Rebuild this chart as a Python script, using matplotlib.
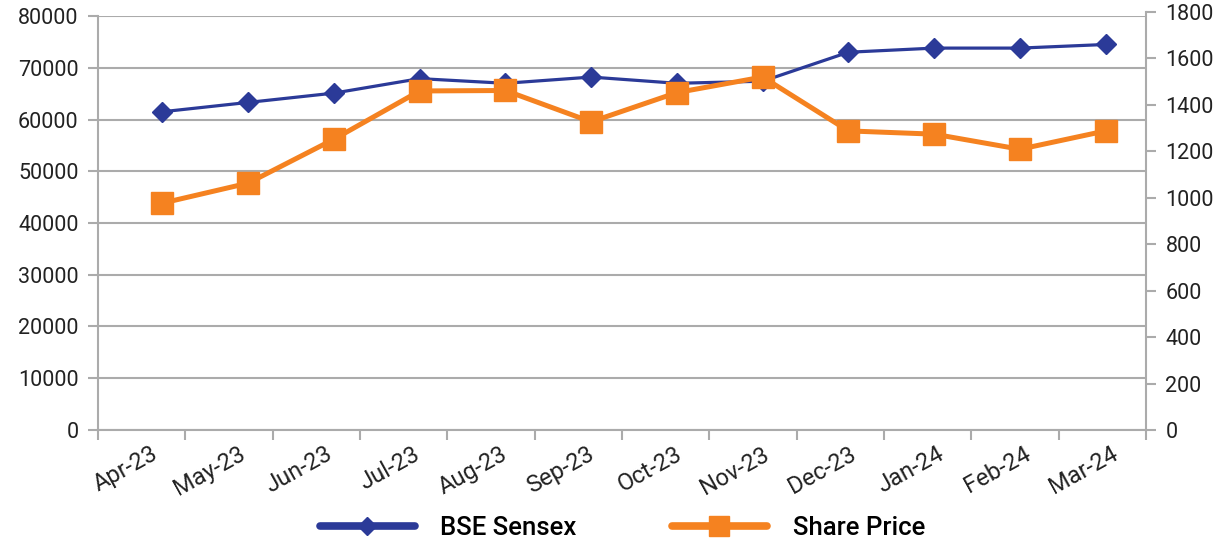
import matplotlib.pyplot as plt
from matplotlib.lines import Line2D
import numpy as np

plt.rcParams['font.family'] = ['Roboto', 'DejaVu Sans']

months = ['Apr-23', 'May-23', 'Jun-23', 'Jul-23', 'Aug-23', 'Sep-23',
          'Oct-23', 'Nov-23', 'Dec-23', 'Jan-24', 'Feb-24', 'Mar-24']
sensex = [61500, 63300, 65100, 67900, 67000, 68200,
          67000, 67400, 73000, 73800, 73800, 74500]
share_price = [977, 1063, 1252, 1460, 1462, 1327,
               1453, 1520, 1288, 1274, 1209, 1288]

blue = '#2B3A98'
orange = '#F58220'
grey = '#ABABAB'

fig = plt.figure(figsize=(12.3, 5.41), dpi=100)
ax = fig.add_axes([0.0797, 0.2052, 0.852, 0.7652])
# right axis runs a little taller than the left one, as in the original
ax2 = fig.add_axes([0.0797, 0.2052, 0.852, 0.7726])
ax2.patch.set_visible(False)

x = np.arange(len(months))
x_lo, x_hi = -0.75, 11.47

ax.plot(x, sensex, color=blue, lw=2.3, marker='D', ms=10, zorder=3)
ax2.plot(x, share_price, color=orange, lw=3.6, marker='s', ms=15.5, zorder=3)

ax.set_xlim(x_lo, x_hi)
ax2.set_xlim(x_lo, x_hi)
ax.set_ylim(0, 80000)
ax2.set_ylim(0, 1800)
ax.set_yticks(np.arange(0, 80001, 10000))
ax2.set_yticks(np.arange(0, 1801, 200))
ax2.yaxis.tick_right()
ax2.set_xticks([])

# month boundary ticks, labels sit to the right of each tick
step = (x_hi - x_lo) / 12
ax.set_xticks(x_lo + step * np.arange(13))
ax.set_xticklabels([])
ax.set_xticks(x_lo + step * (np.arange(12) + 0.6), minor=True)
ax.set_xticklabels(months, minor=True, rotation=29, ha='right',
                   rotation_mode='anchor', fontsize=17, color='#222222')
ax.tick_params(axis='x', which='minor', length=0, pad=9)
ax.tick_params(axis='x', which='major', length=7, width=1.5, color=grey)

ax.grid(axis='y', color=grey, lw=1.5)
ax.set_axisbelow(True)
ax.tick_params(axis='y', length=7, width=1.5, color=grey, labelsize=15.5,
               labelcolor='#222222', pad=7)
ax2.tick_params(axis='y', length=7, width=1.5, color=grey, labelsize=15.5,
                labelcolor='#222222', pad=7)

for s in ('top', 'right'):
    ax.spines[s].set_visible(False)
for s in ('top', 'left', 'bottom'):
    ax2.spines[s].set_visible(False)
for s in ('left', 'bottom'):
    ax.spines[s].set_color(grey)
    ax.spines[s].set_linewidth(1.5)
ax2.spines['right'].set_color(grey)
ax2.spines['right'].set_linewidth(1.5)

handles = [Line2D([], [], color=blue, lw=5.5, marker='D', ms=9, solid_capstyle='round'),
           Line2D([], [], color=orange, lw=5.5, marker='s', ms=15, solid_capstyle='round')]
fig.legend(handles, ['BSE Sensex', 'Share Price'], loc='center',
           bbox_to_anchor=(0.506, 0.024), ncol=2, frameon=False,
           prop={'size': 18.5, 'weight': 'medium'}, handlelength=3.7,
           handletextpad=1.0, columnspacing=3.7)

fig.savefig('out.png', dpi=100)
